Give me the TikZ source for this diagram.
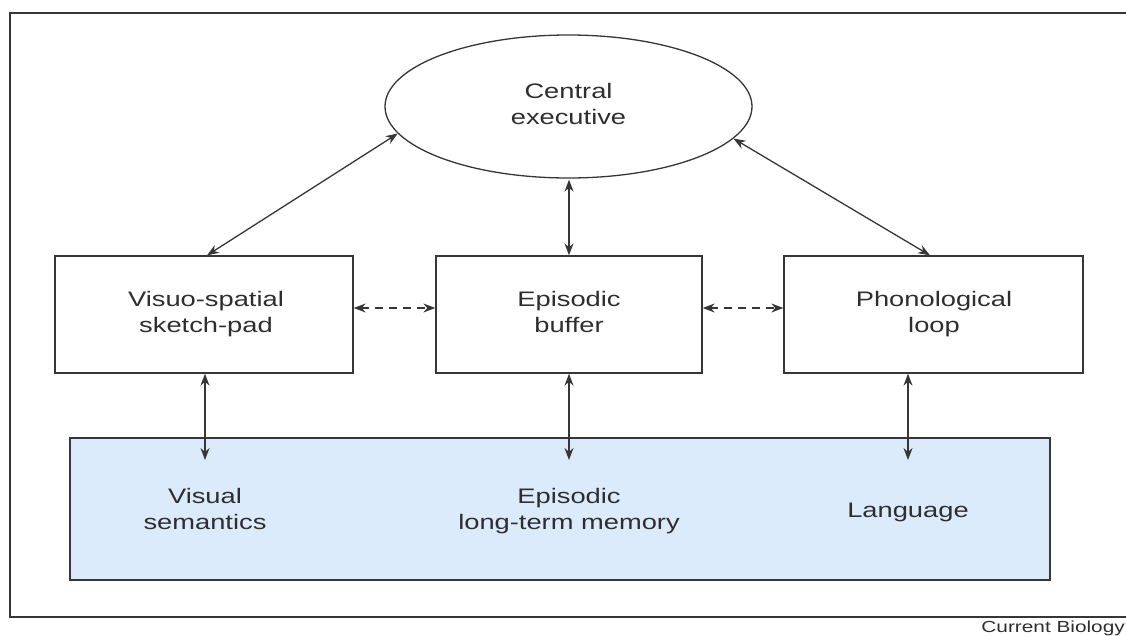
\documentclass[tikz,border=0pt]{standalone}
\usepackage{fontspec}
\setmainfont{Liberation Sans}
\newfontfamily\labfont[FakeStretch=1.3]{Liberation Sans}
\usetikzlibrary{shapes.geometric,arrows.meta}
\definecolor{ink}{HTML}{363636}
\definecolor{txt}{HTML}{2E2E2E}
\definecolor{ltm}{RGB}{220,235,251}
\tikzset{
  lab/.style={font=\labfont\fontsize{21}{26}\selectfont, text=txt, align=center, inner sep=0pt},
  smalllab/.style={font=\labfont\fontsize{16}{20}\selectfont, text=txt, inner sep=0pt},
  compbox/.style={draw=ink, line width=1.3pt, rectangle, inner sep=0pt},
  link/.style={draw=ink, line width=1.3pt, {Stealth[length=12pt,width=9pt]}-{Stealth[length=12pt,width=9pt]}},
  dlink/.style={link, dash pattern=on 8pt off 6pt},
  frameline/.style={draw=ink, line width=1.3pt}
}
\begin{document}
\begin{tikzpicture}[x=1pt,y=-1pt]
\useasboundingbox (0,0) rectangle (1126,635);
% outer frame
\coordinate (ftr) at (1130,13);
\coordinate (ftl) at (10,13);
\coordinate (fbl) at (10,617);
\coordinate (fbr) at (1130,617);
\draw[frameline] (ftr) -- (ftl) -- (fbl) -- (fbr);

% central executive
\node[draw=ink, line width=1.3pt, ellipse, minimum width=367pt, minimum height=143pt, inner sep=0pt] (ce) at (568.5,106.5) {};
\node[lab] (cet) at (568.5,104) {Central\\executive};

% slave systems
\node[compbox, minimum width=298pt, minimum height=117pt] (vs) at (204,314.5) {};
\node[compbox, minimum width=266pt, minimum height=117pt] (eb) at (569,314.5) {};
\node[compbox, minimum width=299pt, minimum height=117pt] (pl) at (933.5,314.5) {};
\node[lab] (vst) at (206,314) {Visuo-spatial\\sketch-pad};
\node[lab] (ebt) at (569,312) {Episodic\\buffer};
\node[lab] (plt) at (934,314) {Phonological\\loop};

% long-term memory
\node[compbox, fill=ltm, minimum width=980pt, minimum height=142pt] (ltm) at (560,509) {};
\node[lab] (vsem) at (205,508.5) {Visual\\semantics};
\node[lab] (eltm) at (569,511) {Episodic\\long-term memory};
\node[lab, anchor=base] (lang) at (908,517) {Language};

% connectors
\draw[link] (ce.189) -- ([xshift=3pt]vs.north);
\draw[link] (ce.349) -- ([xshift=-3.5pt]pl.north);
\draw[link] ([yshift=-1pt]ce.south -| eb.north) -- (eb.north);
\draw[dlink] ([yshift=6.5pt]vs.east) -- ([yshift=6.5pt]eb.west);
\draw[dlink] ([yshift=6.5pt]eb.east) -- ([yshift=6.5pt]pl.west);

\coordinate (vsl) at (205,460);
\coordinate (ebl) at (569,460);
\coordinate (pll) at (908,460);
\draw[link] (vs.south -| vsl) -- (vsl);
\draw[link] (eb.south -| ebl) -- (ebl);
\draw[link] (pl.south -| pll) -- (pll);

% credit
\node[smalllab, anchor=base east] (credit) at (1125,632) {Current Biology};
\end{tikzpicture}
\end{document}
